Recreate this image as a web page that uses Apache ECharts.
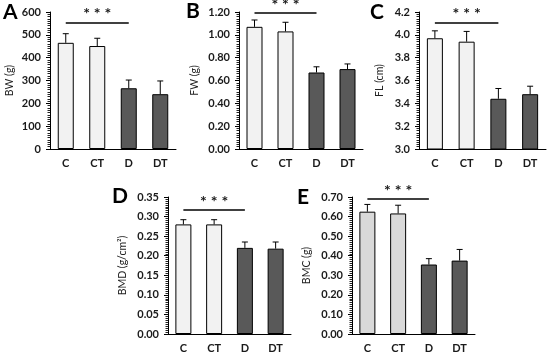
<!DOCTYPE html>
<html>
<head>
<meta charset="utf-8">
<script src="https://cdn.jsdelivr.net/npm/echarts@6/dist/echarts.min.js"></script>
<style>
html,body{margin:0;padding:0;background:#fff;}
#chart{width:550px;height:355px;}
</style>
</head>
<body>
<div id="chart"></div>
<script>
// ---- data ----
var categories = ['C', 'CT', 'D', 'DT'];

var bwMean = [465, 451, 266, 240];
var bwErr = [40, 34, 36, 58];

var fwMean = [1.07, 1.03, 0.67, 0.70];
var fwErr = [0.06, 0.08, 0.05, 0.045];

var flMean = [3.97, 3.94, 3.44, 3.48];
var flErr = [0.065, 0.09, 0.09, 0.07];

var bmdMean = [0.28, 0.28, 0.22, 0.218];
var bmdErr = [0.012, 0.012, 0.015, 0.017];

var bmcMean = [0.625, 0.616, 0.355, 0.375];
var bmcErr = [0.037, 0.042, 0.03, 0.057];

var panelLetters = ['A', 'B', 'C', 'D', 'E'];
var axisNames = ['BW (g)', 'FW (g)', 'FL (cm)', 'BMD (g/cm\u00B2)', 'BMC (g)'];
var yMin = [0, 0, 3.0, 0, 0];
var yMax = [600, 1.2, 4.2, 0.35, 0.70];
var yInterval = [100, 0.2, 0.2, 0.05, 0.10];
var yDecimals = [0, 2, 1, 2, 2];
var sigLevel = [555, 1.19, 4.11, 0.318, 0.692];
var sigText = '* * *';

// ---- layout / style ----
var means = [bwMean, fwMean, flMean, bmdMean, bmcMean];
var errs = [bwErr, fwErr, flErr, bmdErr, bmcErr];
var grids = [
  {left: 50, top: 12, width: 126, height: 137},
  {left: 239, top: 12, width: 124, height: 137},
  {left: 419, top: 12, width: 127, height: 137},
  {left: 168, top: 197, width: 123, height: 137},
  {left: 352, top: 197, width: 123, height: 137}
];
var nameGaps = [35, 39, 34, 40, 40];
var letterPos = [[3, 13], [186, 12], [370, 13], [112, 197], [297, 198]];
var lightColors = ['#f2f2f2', '#f2f2f2', '#f2f2f2', '#f2f2f2', '#d9d9d9'];
var darkColor = '#595959';
var FONT = 'Lato';

var xAxes = [], yAxes = [], series = [], graphics = [];

for (var p = 0; p < 5; p++) {
  (function (p) {
    xAxes.push({
      type: 'category', gridIndex: p, data: categories,
      axisLine: {show: true, lineStyle: {color: '#000', width: 1}},
      axisTick: {show: false},
      axisLabel: {color: '#1a1a1a', fontFamily: FONT, fontWeight: 'bold', fontSize: 11, margin: 9}
    });
    yAxes.push({
      type: 'value', gridIndex: p, min: yMin[p], max: yMax[p], interval: yInterval[p],
      name: axisNames[p], nameLocation: 'middle', nameGap: nameGaps[p],
      nameTextStyle: {color: '#222', fontFamily: FONT, fontSize: 10.5},
      axisLine: {show: true, lineStyle: {color: '#000', width: 1}},
      axisTick: {show: true, inside: false, length: 4, lineStyle: {color: '#000', width: 1}},
      minorTick: {show: true, splitNumber: 10, length: 2.5, lineStyle: {color: '#222', width: 1}},
      splitLine: {show: false},
      minorSplitLine: {show: false},
      axisLabel: {
        color: '#1a1a1a', fontFamily: FONT, fontWeight: 'bold', fontSize: 11, margin: 9,
        formatter: function (v) { return v.toFixed(yDecimals[p]); }
      }
    });
  })(p);
}

for (var p2 = 0; p2 < 5; p2++) {
  (function (p) {
    var barData = means[p].map(function (v, i) {
      return {value: v, itemStyle: {color: i < 2 ? lightColors[p] : darkColor}};
    });
    series.push({
      type: 'bar', xAxisIndex: p, yAxisIndex: p, data: barData, barWidth: 16,
      itemStyle: {borderColor: '#000', borderWidth: 1},
      clip: true, silent: true,
      markLine: {
        silent: true, symbol: ['none', 'none'], animation: false,
        lineStyle: {color: '#000', width: 1.5, type: 'solid'},
        label: {
          show: true, position: 'middle', formatter: sigText, distance: 0,
          color: '#1a1a1a', fontFamily: FONT, fontWeight: 'bold', fontSize: 16
        },
        data: [[{coord: [categories[0], sigLevel[p]]}, {coord: [categories[2], sigLevel[p]]}]]
      }
    });
    var errData = means[p].map(function (v, i) { return [i, v, errs[p][i]]; });
    series.push({
      type: 'custom', xAxisIndex: p, yAxisIndex: p, data: errData, z: 5, silent: true,
      renderItem: function (params, api) {
        var base = api.coord([api.value(0), api.value(1)]);
        var top = api.coord([api.value(0), api.value(1) + api.value(2)]);
        var style = {stroke: '#000', lineWidth: 1};
        return {
          type: 'group',
          children: [
            {type: 'line', shape: {x1: base[0], y1: base[1], x2: top[0], y2: top[1]}, style: style},
            {type: 'line', shape: {x1: top[0] - 3, y1: top[1], x2: top[0] + 3, y2: top[1]}, style: style}
          ]
        };
      }
    });
    graphics.push({
      type: 'text', left: letterPos[p][0], top: letterPos[p][1] - 11,
      style: {text: panelLetters[p], fill: '#000', font: 'bold 21px ' + FONT}
    });
  })(p2);
}

var chart = echarts.init(document.getElementById('chart'), null, {renderer: 'canvas'});
chart.setOption({
  animation: false,
  backgroundColor: '#fff',
  grid: grids,
  xAxis: xAxes,
  yAxis: yAxes,
  series: series,
  graphic: graphics
});
</script>
</body>
</html>
